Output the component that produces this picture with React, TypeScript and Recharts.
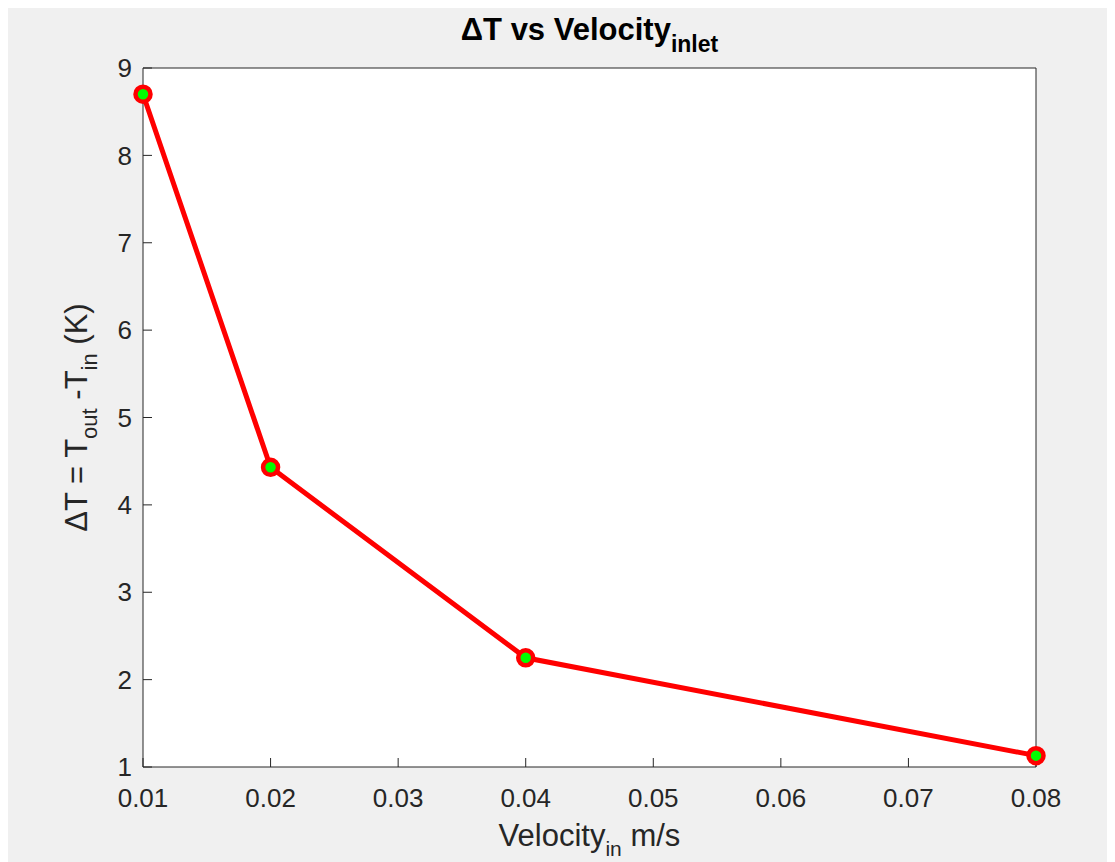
import React from 'react'
import {CartesianGrid, ComposedChart, Line, XAxis, YAxis} from 'recharts'

// velocity at inlet (m/s) and temperature rise (K)
const velocityIn = [0.01, 0.02, 0.04, 0.08]
const deltaT = [8.7, 4.43, 2.25, 1.13]

const xTicks = [0.01, 0.02, 0.03, 0.04, 0.05, 0.06, 0.07, 0.08]
const yTicks = [1, 2, 3, 4, 5, 6, 7, 8, 9]

const data = velocityIn.map((v, i) => ({velocity: v, deltaT: deltaT[i]}))

const AXIS = '#262626'
const FONT = '"Liberation Sans", Arial, Helvetica, sans-serif'

const tickStyle = {fontSize: 26, fill: AXIS, fontFamily: FONT}

const TitleLabel = ({viewBox}: any) => {
  const cx = viewBox.x + viewBox.width / 2
  const y = viewBox.y - 28
  return (
    <text x={cx} y={y} textAnchor="middle" fontFamily={FONT} fontWeight="bold" fontSize={31} fill="#000">
      ΔT vs Velocity
      <tspan dy={12} fontSize={23}>inlet</tspan>
    </text>
  )
}

const XLabel = ({viewBox}: any) => {
  const cx = viewBox.x + viewBox.width / 2
  const y = viewBox.y + 79
  return (
    <text x={cx} y={y} textAnchor="middle" fontFamily={FONT} fontSize={31} fill={AXIS}>
      Velocity
      <tspan dy={10} fontSize={21}>in</tspan>
      <tspan dy={-10}> m/s</tspan>
    </text>
  )
}

const YLabel = ({viewBox}: any) => {
  const cx = viewBox.x + 79
  const cy = viewBox.y + viewBox.height / 2
  return (
    <text
      x={cx}
      y={cy}
      textAnchor="middle"
      transform={`rotate(-90, ${cx}, ${cy})`}
      fontFamily={FONT}
      fontSize={31}
      fill={AXIS}
    >
      ΔT = T
      <tspan dy={10} fontSize={22}>out</tspan>
      <tspan dy={-10}> -T</tspan>
      <tspan dy={10} fontSize={22}>in</tspan>
      <tspan dy={-10}> (K)</tspan>
    </text>
  )
}

const App = () => {
  return (
    <div style={{width: 1107, height: 854, backgroundColor: '#f0f0f0'}}>
      <ComposedChart width={1107} height={854} data={data} margin={{top: 60, right: 79, bottom: 0, left: 0}}>
        <CartesianGrid horizontal={false} vertical={false} fill="#ffffff" />

        <XAxis
          xAxisId="bottom"
          dataKey="velocity"
          type="number"
          domain={[0.01, 0.08]}
          ticks={xTicks}
          interval={0}
          height={95}
          tickSize={-9}
          tickMargin={31}
          tick={tickStyle}
          stroke={AXIS}
          tickFormatter={(v: number) => v.toFixed(2)}
          label={<XLabel />}
        />
        {/* box top edge with inward ticks, also carries the title */}
        <XAxis
          xAxisId="top"
          dataKey="velocity"
          orientation="top"
          mirror
          type="number"
          domain={[0.01, 0.08]}
          allowDataOverflow
          ticks={xTicks}
          interval={0}
          tickSize={9}
          tick={false}
          stroke={AXIS}
          label={<TitleLabel />}
        />

        <YAxis
          yAxisId="left"
          type="number"
          domain={[1, 9]}
          ticks={yTicks}
          interval={0}
          width={135}
          tickSize={-9}
          tickMargin={20}
          tick={tickStyle}
          stroke={AXIS}
          label={<YLabel />}
        />
        {/* box right edge with inward ticks */}
        <YAxis
          yAxisId="right"
          orientation="right"
          mirror
          type="number"
          domain={[1, 9]}
          allowDataOverflow
          ticks={yTicks}
          interval={0}
          tickSize={9}
          tick={false}
          stroke={AXIS}
        />

        {/* invisible copy so the top/right frame axes get registered */}
        <Line
          xAxisId="top"
          yAxisId="right"
          type="linear"
          dataKey="deltaT"
          stroke="none"
          dot={false}
          activeDot={false}
          legendType="none"
          isAnimationActive={false}
        />
        <Line
          xAxisId="bottom"
          yAxisId="left"
          type="linear"
          dataKey="deltaT"
          stroke="#ff0000"
          strokeWidth={5}
          dot={{r: 7.5, fill: '#00ff00', stroke: '#ff0000', strokeWidth: 4.5}}
          activeDot={false}
          isAnimationActive={false}
        />
      </ComposedChart>
    </div>
  )
}

export default App
